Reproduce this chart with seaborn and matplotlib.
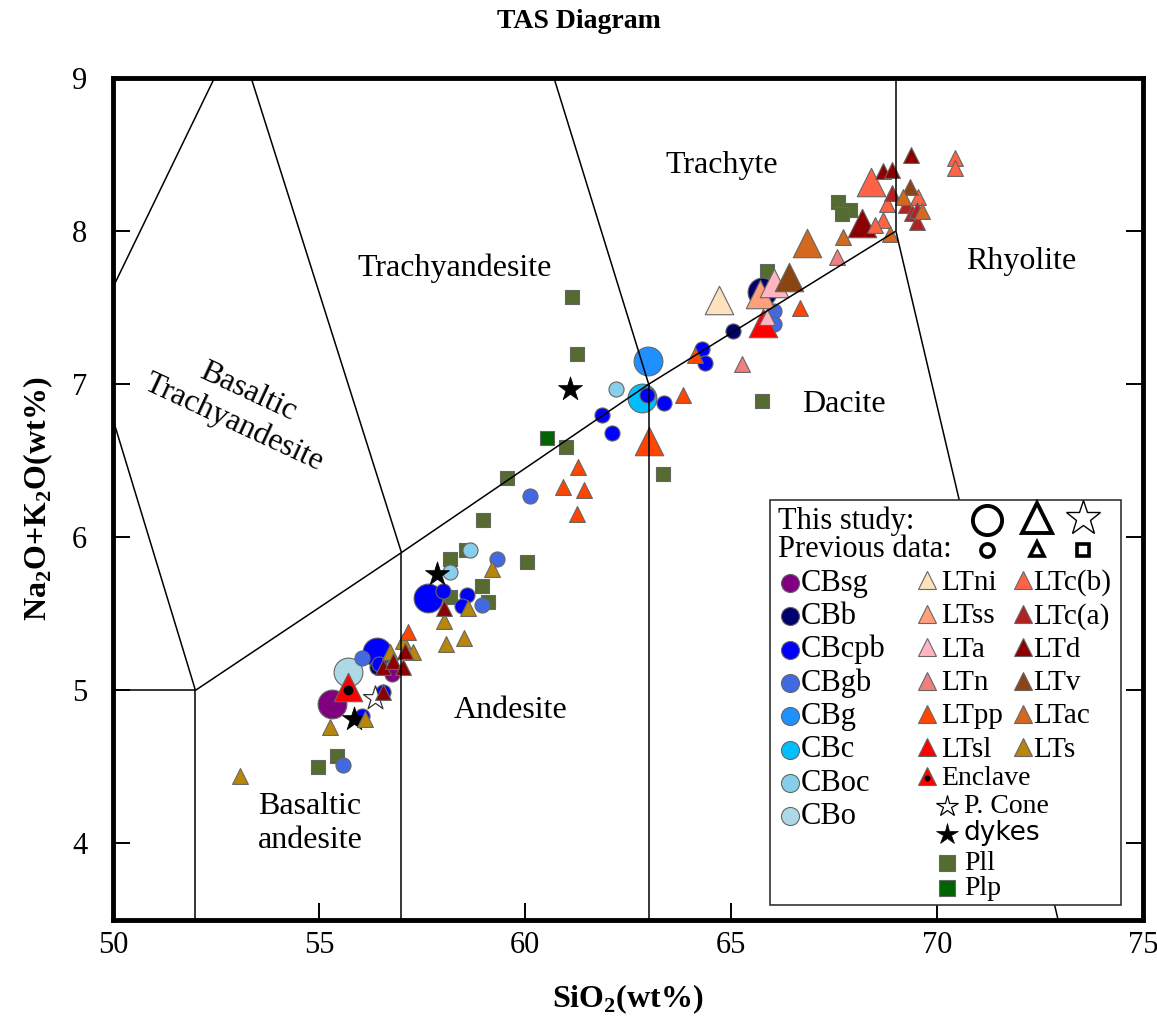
import matplotlib
matplotlib.use("Agg")
import matplotlib.pyplot as plt
from matplotlib.patches import Rectangle
import seaborn as sns

# ---------------------------------------------------------------- data
# (SiO2, Na2O+K2O) pairs; "new" = this study, "prev" = previous data
cbsg_new = [(55.32, 4.91)]
cbsg_prev = [(56.77, 5.11)]
cbb_new = [(65.75, 7.60)]
cbb_prev = [(65.05, 7.35), (56.41, 5.15)]
cbcpb_new = [(56.41, 5.25), (57.65, 5.60)]
cbcpb_prev = [(62.96, 6.93), (63.37, 6.88), (61.87, 6.80), (62.11, 6.68),
              (64.30, 7.23), (64.37, 7.14), (56.46, 5.17), (56.55, 4.99),
              (56.04, 4.83), (58.01, 5.65), (58.59, 5.62), (58.47, 5.55)]
cbgb_prev = [(60.12, 6.27), (66.04, 7.48), (66.04, 7.39), (56.04, 5.21),
             (55.58, 4.51), (59.32, 5.86), (58.96, 5.56)]
cbg_new = [(62.99, 7.15)]
cbc_new = [(62.84, 6.91)]
cboc_prev = [(62.21, 6.97), (58.67, 5.92), (58.18, 5.77)]
cbo_new = [(55.70, 5.12)]

ltni_new = [(64.71, 7.55)]
ltss_new = [(65.70, 7.59)]
lta_new = [(66.04, 7.66)]
lta_prev = [(65.87, 7.44)]
ltn_prev = [(65.27, 7.13), (67.57, 7.83)]
ltpp_new = [(63.01, 6.63)]
ltpp_prev = [(63.83, 6.93), (66.67, 7.50), (64.13, 7.19), (61.29, 6.46),
             (60.92, 6.33), (61.43, 6.31), (61.26, 6.15), (57.16, 5.38)]
ltsl_new = [(65.78, 7.40)]
enclave_new = [(55.70, 5.02)]
ltcb_new = [(68.40, 8.32)]
ltcb_prev = [(70.44, 8.48), (70.44, 8.41), (69.54, 8.22), (68.69, 8.07),
             (68.50, 8.04), (68.79, 8.18)]
ltca_prev = [(68.91, 8.25), (69.25, 8.17), (69.39, 8.12), (69.51, 8.06),
             (69.51, 8.14)]
ltd_new = [(68.18, 8.05)]
ltd_prev = [(56.55, 5.15), (56.80, 5.19), (57.04, 5.15), (56.55, 4.99),
            (57.09, 5.26), (58.03, 5.54), (69.37, 8.50), (68.69, 8.39),
            (68.91, 8.40)]
ltv_new = [(66.41, 7.70)]
ltv_prev = [(69.34, 8.29)]
ltac_new = [(66.84, 7.92)]
ltac_prev = [(68.86, 7.98), (67.72, 7.96), (69.64, 8.13), (69.17, 8.22)]
lts_prev = [(53.08, 4.44), (55.27, 4.76), (56.12, 4.81), (56.72, 5.25),
            (57.04, 5.32), (57.28, 5.25), (58.03, 5.45), (59.20, 5.79),
            (58.08, 5.30), (58.51, 5.34), (58.62, 5.54)]

pcone_new = [(56.36, 4.95)]
dykes_new = [(55.85, 4.81), (57.86, 5.76), (61.09, 6.97)]

pll_prev = [(61.14, 7.57), (61.26, 7.20), (61.00, 6.59), (59.56, 6.39),
            (58.98, 6.11), (58.18, 5.86), (58.57, 5.92), (58.96, 5.68),
            (59.10, 5.58), (60.05, 5.84), (58.18, 5.61), (63.35, 6.41),
            (65.87, 7.74), (65.75, 6.89), (67.60, 8.19), (67.88, 8.14),
            (67.69, 8.11), (54.98, 4.50), (55.44, 4.57)]
plp_prev = [(60.53, 6.65)]

# TAS field boundaries (Le Bas et al., 1986)
tas_lines = [
    [(45, 5), (52, 5)],
    [(52, 0), (52, 5)],
    [(52, 5), (57, 5.9), (63, 7), (69, 8)],
    [(57, 0), (57, 5.9)],
    [(63, 0), (63, 7)],
    [(69, 8), (69, 13)],
    [(69, 8), (76, 0)],
    [(45, 9.4), (49.4, 7.3), (52, 5)],
    [(49.4, 7.3), (53, 9.3)],
    [(53, 9.3), (57, 5.9)],
    [(57.6, 11.7), (63, 7)],
]

field_names = ["Trachyte", "Rhyolite", "Trachyandesite", "Dacite", "Andesite",
               "Basaltic\nandesite", "Basaltic\nTrachyandesite"]
field_xy = [(64.78, 8.43), (72.04, 7.80), (58.30, 7.76), (67.74, 6.87),
            (59.66, 4.87), (54.78, 4.13), (53.10, 6.85)]
field_rot = [0, 0, 0, 0, 0, 0, -25]

# ---------------------------------------------------------------- styles
COL = {
    "CBsg": "#800080", "CBb": "#00006e", "CBcpb": "#0000ff", "CBgb": "#4169e1",
    "CBg": "#1e90ff", "CBc": "#00bfff", "CBoc": "#87ceeb", "CBo": "#add8e6",
    "LTni": "#fde2bd", "LTss": "#ffa07a", "LTa": "#ffb6c1", "LTn": "#f08080",
    "LTpp": "#ff4500", "LTsl": "#ff0000", "Enclave": "#ff0000",
    "LTc(b)": "#ff6347", "LTc(a)": "#b22222", "LTd": "#8b0000",
    "LTv": "#8b4513", "LTac": "#d2691e", "LTs": "#b8860b",
    "Pll": "#556b2f", "Plp": "#006400",
}

S_BIG_O, S_SMALL_O = 430, 118
S_BIG_T, S_SMALL_T = 420, 130
S_STAR, S_SQ = 330, 112
EDGE = "#666666"

sns.set_theme(style="ticks")
plt.rcParams["font.family"] = ["Liberation Serif", "DejaVu Serif"]
plt.rcParams["mathtext.fontset"] = "custom"
plt.rcParams["mathtext.rm"] = "Liberation Serif"
plt.rcParams["mathtext.bf"] = "Liberation Serif:bold"
for key in ["text.color", "axes.labelcolor", "xtick.color", "ytick.color",
            "axes.edgecolor"]:
    plt.rcParams[key] = "black"

fig = plt.figure(figsize=(11.57, 10.17), dpi=100)
ax = fig.add_axes([0.0977, 0.0954, 0.8903, 0.8279])


def pts(ax, data, color, marker, size, z, edge=EDGE, lw=0.8):
    if not data:
        return
    xs = [p[0] for p in data]
    ys = [p[1] for p in data]
    sns.scatterplot(x=xs, y=ys, ax=ax, color=color, marker=marker, s=size,
                    edgecolor=edge, linewidth=lw, zorder=z, legend=False)


# squares (previous data) at the back
pts(ax, pll_prev, COL["Pll"], "s", S_SQ, 2)
pts(ax, plp_prev, COL["Plp"], "s", S_SQ, 2)

# circles
pts(ax, cbsg_new, COL["CBsg"], "o", S_BIG_O, 3)
pts(ax, cbo_new, COL["CBo"], "o", S_BIG_O, 3)
pts(ax, cbcpb_new, COL["CBcpb"], "o", S_BIG_O, 3)
pts(ax, cbg_new, COL["CBg"], "o", S_BIG_O, 3)
pts(ax, cbc_new, COL["CBc"], "o", S_BIG_O, 3)
pts(ax, cbb_new, COL["CBb"], "o", S_BIG_O, 3)
pts(ax, cbgb_prev, COL["CBgb"], "o", S_SMALL_O, 4)
pts(ax, cbsg_prev, COL["CBsg"], "o", S_SMALL_O, 4)
pts(ax, cbb_prev, COL["CBb"], "o", S_SMALL_O, 4)
pts(ax, cbcpb_prev, COL["CBcpb"], "o", S_SMALL_O, 4)
pts(ax, cboc_prev, COL["CBoc"], "o", S_SMALL_O, 4)

# stars
pts(ax, pcone_new, "white", "*", S_STAR, 5, edge="#333333", lw=0.9)
pts(ax, dykes_new, "black", "*", S_STAR, 5, edge="black", lw=0.5)

# triangles
for grp, data in [("LTni", ltni_new), ("LTss", ltss_new), ("LTa", lta_new),
                  ("LTpp", ltpp_new), ("LTsl", ltsl_new), ("LTc(b)", ltcb_new),
                  ("LTd", ltd_new), ("LTv", ltv_new), ("LTac", ltac_new)]:
    pts(ax, data, COL[grp], "^", S_BIG_T, 6)
for grp, data in [("LTs", lts_prev), ("LTpp", ltpp_prev), ("LTd", ltd_prev),
                  ("LTa", lta_prev), ("LTn", ltn_prev), ("LTc(b)", ltcb_prev),
                  ("LTc(a)", ltca_prev), ("LTv", ltv_prev), ("LTac", ltac_prev)]:
    pts(ax, data, COL[grp], "^", S_SMALL_T, 7)
pts(ax, enclave_new, COL["Enclave"], "^", S_BIG_T, 8)
ax.plot([p[0] for p in enclave_new], [p[1] - 0.015 for p in enclave_new],
        "o", color="black", ms=6, zorder=9)

# field boundaries on top of the symbols
for seg in tas_lines:
    ax.plot([p[0] for p in seg], [p[1] for p in seg], color="black",
            lw=1.1, zorder=10, solid_capstyle="butt")

for name, (x, y), rot in zip(field_names, field_xy, field_rot):
    ax.text(x, y, name, fontsize=23, ha="center", va="center", rotation=rot,
            rotation_mode="anchor", multialignment="center", zorder=11,
            linespacing=1.2)

ax.set_xlim(50, 75)
ax.set_ylim(3.5, 9)
ax.set_xticks([50, 55, 60, 65, 70, 75])
ax.set_yticks([4, 5, 6, 7, 8, 9])
ax.tick_params(direction="in", length=12, width=1.4, labelsize=22,
               right=True, pad=8, colors="black")
ax.tick_params(axis="y", pad=24)
for lab in ax.get_yticklabels():
    lab.set_horizontalalignment("center")
for sp in ax.spines.values():
    sp.set_visible(True)
    sp.set_linewidth(3.5)
    sp.set_color("black")
ax.set_facecolor("white")

fig.text(0.5, 0.979, "TAS Diagram", ha="center", va="center",
         fontsize=20, fontweight="bold")
ax.set_xlabel(r"SiO$_{\mathbf{2}}$(wt%)", fontsize=23, fontweight="bold",
              labelpad=16)
ax.set_ylabel(r"Na$_{\mathbf{2}}$O+K$_{\mathbf{2}}$O(wt%)", fontsize=23,
              fontweight="bold", labelpad=12)

# ---------------------------------------------------------------- legend box
T = ax.transAxes
ax.add_patch(Rectangle((0.638, 0.018), 0.341, 0.481, transform=T,
                       facecolor="white", edgecolor="#333333", lw=1.2,
                       zorder=20))
LFS = 21


def lmark(x, y, marker, face, edge="#666666", ms=11, mew=0.8):
    ax.plot([x], [y], marker=marker, ms=ms, mfc=face, mec=edge, mew=mew,
            transform=T, zorder=21, clip_on=False, ls="none")


def ltext(x, y, s, **kw):
    ax.text(x, y, s, transform=T, fontsize=kw.pop("fontsize", LFS),
            ha="left", va="center", zorder=21, **kw)


ltext(0.6456, 0.4740, "This study:", fontsize=22)
ltext(0.6456, 0.4400, "Previous data:", fontsize=22)
lmark(0.8485, 0.4750, "o", "none", "black", ms=21, mew=2.8)
lmark(0.8971, 0.4780, "^", "none", "black", ms=22, mew=2.8)
lmark(0.9417, 0.4780, "*", "white", "black", ms=26, mew=1)
lmark(0.8485, 0.4394, "o", "none", "black", ms=9.5, mew=2.6)
lmark(0.8971, 0.4410, "^", "none", "black", ms=10.5, mew=2.6)
lmark(0.9417, 0.4394, "s", "none", "black", ms=8.5, mew=2.6)

row_y0, row_dy = 0.4002, 0.0396
col1 = ["CBsg", "CBb", "CBcpb", "CBgb", "CBg", "CBc", "CBoc", "CBo"]
col2 = ["LTni", "LTss", "LTa", "LTn", "LTpp", "LTsl"]
col3 = ["LTc(b)", "LTc(a)", "LTd", "LTv", "LTac", "LTs"]
for i, g in enumerate(col1):
    y = row_y0 - i * row_dy
    lmark(0.6573, y, "o", COL[g], ms=13)
    ltext(0.6680, y, g, fontsize=22)
for i, g in enumerate(col2):
    y = row_y0 - i * row_dy
    lmark(0.7903, y + 0.003, "^", COL[g], ms=13)
    ltext(0.8040, y, g)
for i, g in enumerate(col3):
    y = row_y0 - i * row_dy
    lmark(0.8835, y + 0.003, "^", COL[g], ms=13)
    ltext(0.8930, y, g)
lmark(0.7903, 0.1712, "^", COL["Enclave"], ms=13)
lmark(0.7903, 0.1682, "o", "black", "black", ms=3.5)
ltext(0.8040, 0.1682, "Enclave", fontsize=20)
lmark(0.8097, 0.1352, "*", "white", "black", ms=16, mew=0.9)
ltext(0.8260, 0.1352, "P. Cone", fontsize=20)
lmark(0.8097, 0.1023, "*", "black", "black", ms=16, mew=0.5)
ltext(0.8260, 0.1030, "dykes", family="DejaVu Sans", fontsize=19)
lmark(0.8097, 0.0679, "s", COL["Pll"], ms=11)
ltext(0.8260, 0.0669, "Pll", fontsize=20)
lmark(0.8097, 0.0380, "s", COL["Plp"], ms=11)
ltext(0.8260, 0.0370, "Plp", fontsize=20)

fig.savefig("out.png", dpi=100, facecolor="white")
